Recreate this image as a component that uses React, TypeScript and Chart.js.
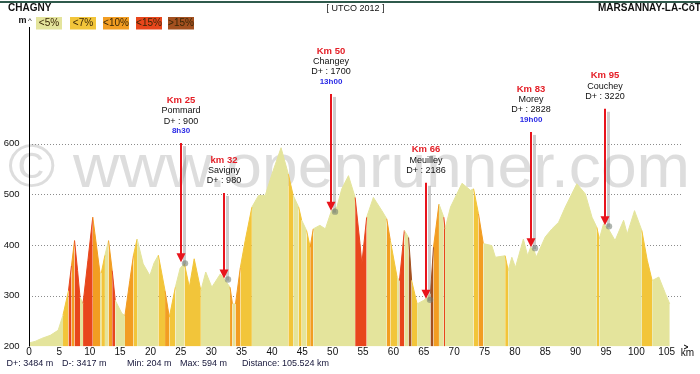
import React, { useEffect, useRef } from 'react';
import { Chart, registerables } from 'chart.js';

Chart.register(...registerables);

// ---------- data ----------
const distanceKm = [
  0, 1, 2.1, 3.5, 4.8, 5.6, 6.5, 7.0, 7.5, 8.0, 8.4, 8.9, 9.7, 10.5, 11.1, 11.7, 11.9, 12.5, 13.1, 13.7,
  14.2, 15.3, 15.8, 16.6, 17.2, 17.8, 18.8, 19.9, 20.6, 21.3, 22.4, 23.1, 24.1, 24.9, 25.6, 26.4, 27.2, 28.3,
  29.1, 30.1, 31.5, 32.1, 33.1, 33.5, 34.0, 34.8, 35.6, 36.7, 37.8, 38.9, 40.0, 41.5, 42.7, 43.5, 44.4, 44.9,
  45.7, 46.3, 46.8, 47.9, 48.8, 49.8, 50.7, 51.5, 52.6, 53.7, 54.5, 54.8, 55.6, 56.7, 58.1, 58.9, 59.5, 60.6,
  61.0, 61.8, 62.5, 63.0, 63.9, 65.0, 65.3, 66.1, 66.6, 67.5, 68.3, 68.5, 69.4, 71.3, 72.7, 73.2, 74.0, 74.8,
  76.2, 76.8, 78.4, 78.9, 79.5, 80.1, 81.4, 82.1, 82.6, 83.2, 83.5, 85.0, 86.1, 87.2, 88.3, 90.2, 91.6, 92.7,
  93.5, 93.9, 94.6, 94.8, 95.4, 96.5, 97.9, 98.5, 99.7, 100.9, 101.8, 102.6, 103.7, 104.8, 105.5,
];
const elevationM = [
  207, 210, 216, 222, 232, 262, 310, 360, 409, 350, 297, 285, 370, 455, 400, 344, 345, 380, 409, 350,
  291, 265, 261, 330, 380, 412, 363, 340, 365, 380, 310, 258, 317, 355, 363, 317, 373, 310,
  347, 317, 343, 334, 317, 284, 284, 356, 409, 475, 498, 498, 540, 592, 540, 498, 475, 449,
  429, 396, 432, 439, 432, 468, 475, 511, 537, 494, 403, 363, 455, 494, 468, 452, 409, 337,
  330, 429, 415, 330, 284, 291, 294, 304, 396, 481, 455, 432, 475, 522, 508, 511, 462, 403,
  399, 376, 379, 350, 376, 356, 412, 379, 396, 389, 376, 416, 432, 445, 475, 521, 501, 455,
  435, 412, 442, 439, 432, 409, 449, 422, 468, 429, 370, 330, 337, 304, 284,
];

const xTicks = [0, 5, 10, 15, 20, 25, 30, 35, 40, 45, 50, 55, 60, 65, 70, 75, 80, 85, 90, 95, 100, 105];
const yTicks = [200, 300, 400, 500, 600];
const gridLevels = [300, 400, 500, 600];

const slopeLimits = [5, 7, 10, 15];
const slopeLabels = ['<5%', '<7%', '<10%', '<15%', '>15%'];
const slopeColors = ['#e4e49c', '#f2c53a', '#f29d22', '#e8461c', '#a3501f'];

const markerKm = [25, 32.1, 49.8, 65.3, 82.6, 94.8];
const markerTipElev = [366, 334, 468, 294, 396, 439];
const markerLabelElev = [686, 568, 783, 588, 708, 734];
const markerTitle = ['Km 25', 'km 32', 'Km 50', 'Km 66', 'Km 83', 'Km 95'];
const markerPlace = ['Pommard', 'Savigny', 'Changey', 'Meuilley', 'Morey', 'Couchey'];
const markerClimb = ['D+ : 900', 'D+ : 980', 'D+ : 1700', 'D+ : 2186', 'D+ : 2828', 'D+ : 3220'];
const markerTime = ['8h30', '', '13h00', '', '19h00', ''];

const startName = 'CHAGNY';
const endName = 'MARSANNAY-LA-CôTE';
const eventName = '[ UTCO 2012 ]';
const footerItems = ['D+: 3484 m', 'D-: 3417 m', 'Min: 204 m', 'Max: 594 m', 'Distance: 105.524 km'];
const watermark = '© www.openrunner.com';

// ---------- drawing ----------
const FONT = "'Liberation Sans', Arial, sans-serif";

function slopeColor(p0: any, p1: any): string {
  const dx = (p1.x - p0.x) * 1000;
  const s = dx > 0 ? (Math.abs(p1.y - p0.y) / dx) * 100 : 0;
  let i = 0;
  while (i < slopeLimits.length && s >= slopeLimits[i]) i++;
  return slopeColors[i];
}

const decor = {
  id: 'decor',
  beforeDatasetsDraw(chart: any) {
    const { ctx, chartArea: a, scales } = chart;
    const y = scales.y;
    ctx.save();

    // watermark (behind the profile)
    ctx.font = `62px ${FONT}`;
    const w = ctx.measureText(watermark).width;
    ctx.save();
    ctx.translate(8, 187);
    ctx.scale(682 / w, 1);
    ctx.fillStyle = 'rgba(170,170,170,0.4)';
    ctx.textAlign = 'left';
    ctx.textBaseline = 'alphabetic';
    ctx.fillText(watermark, 0, 0);
    ctx.restore();

    ctx.strokeStyle = '#8c8c8c';
    ctx.lineWidth = 1;
    ctx.setLineDash([1, 2]);
    for (const v of gridLevels) {
      const py = Math.round(y.getPixelForValue(v)) + 0.5;
      ctx.beginPath();
      ctx.moveTo(a.left + 3, py);
      ctx.lineTo(a.right, py);
      ctx.stroke();
    }
    ctx.restore();
  },
  afterDatasetsDraw(chart: any) {
    const { ctx, chartArea: a, scales } = chart;
    const x = scales.x;
    const y = scales.y;
    ctx.save();

    // top rule
    ctx.fillStyle = '#2f5a4c';
    ctx.fillRect(0, 1, 700, 2);

    // titles
    ctx.textBaseline = 'middle';
    ctx.fillStyle = '#111';
    ctx.font = `bold 10px ${FONT}`;
    ctx.textAlign = 'left';
    ctx.fillText(startName, 8, 8.5);
    ctx.fillText(endName, 598, 8.5);
    ctx.font = `9px ${FONT}`;
    ctx.textAlign = 'center';
    ctx.fillText(eventName, 355.5, 8.5);

    // legend
    const boxX = [36, 70, 103, 136, 168];
    slopeLabels.forEach((lab, i) => {
      ctx.fillStyle = slopeColors[i];
      ctx.fillRect(boxX[i], 17, 26, 12.5);
      ctx.fillStyle = '#3a2606';
      ctx.font = `10px ${FONT}`;
      ctx.textAlign = 'center';
      ctx.fillText(lab, boxX[i] + 13, 23.5);
    });
    ctx.fillStyle = '#111';
    ctx.font = `bold 9px ${FONT}`;
    ctx.textAlign = 'center';
    ctx.fillText('m', 22.5, 21);
    ctx.font = `8px ${FONT}`;
    ctx.fillText('^', 30, 21);

    // y axis line
    ctx.strokeStyle = '#000';
    ctx.lineWidth = 1;
    ctx.beginPath();
    ctx.moveTo(Math.round(a.left) + 0.5, 27);
    ctx.lineTo(Math.round(a.left) + 0.5, a.bottom);
    ctx.stroke();

    // y tick labels
    ctx.font = `9.5px ${FONT}`;
    ctx.fillStyle = '#111';
    ctx.textAlign = 'right';
    for (const v of yTicks) ctx.fillText(String(v), 19.5, y.getPixelForValue(v));

    // x tick labels
    ctx.font = `10px ${FONT}`;
    ctx.textAlign = 'center';
    for (const v of xTicks) ctx.fillText(String(v), x.getPixelForValue(v), 352.5);
    ctx.fillText('km', 687.5, 353);
    ctx.beginPath();
    ctx.moveTo(684, 345);
    ctx.lineTo(688, 347);
    ctx.lineTo(684, 349);
    ctx.stroke();

    // footer
    const fx = [6.5, 62, 127, 180, 242];
    ctx.font = `9px ${FONT}`;
    ctx.textAlign = 'left';
    ctx.fillStyle = '#16163a';
    footerItems.forEach((t, i) => ctx.fillText(t, fx[i], 364));

    // markers
    markerKm.forEach((km, i) => {
      const px = Math.round(x.getPixelForValue(km));
      const ty = y.getPixelForValue(markerLabelElev[i]);
      const tip = y.getPixelForValue(markerTipElev[i]);
      ctx.textAlign = 'center';
      ctx.textBaseline = 'middle';
      ctx.font = `bold 9.5px ${FONT}`;
      ctx.fillStyle = '#e41e26';
      ctx.fillText(markerTitle[i], px, ty);
      ctx.font = `9px ${FONT}`;
      ctx.fillStyle = '#111';
      ctx.fillText(markerPlace[i], px, ty + 10.7);
      ctx.fillText(markerClimb[i], px, ty + 21);
      let last = ty + 21;
      if (markerTime[i]) {
        ctx.font = `bold 8px ${FONT}`;
        ctx.fillStyle = '#2a2ae6';
        ctx.fillText(markerTime[i], px, ty + 31);
        last = ty + 31;
      }
      const top = last + 12;
      // shadow
      ctx.strokeStyle = 'rgba(130,130,130,0.4)';
      ctx.lineWidth = 3;
      ctx.beginPath();
      ctx.moveTo(px + 3.5, top + 3);
      ctx.lineTo(px + 3.5, tip + 2);
      ctx.stroke();
      ctx.fillStyle = 'rgba(110,120,110,0.55)';
      ctx.beginPath();
      ctx.arc(px + 4, tip + 1, 3.2, 0, Math.PI * 2);
      ctx.fill();
      // red arrow
      ctx.strokeStyle = '#e8141c';
      ctx.lineWidth = 2;
      ctx.beginPath();
      ctx.moveTo(px, top);
      ctx.lineTo(px, tip - 7);
      ctx.stroke();
      ctx.fillStyle = '#e8141c';
      ctx.beginPath();
      ctx.moveTo(px - 4.5, tip - 9);
      ctx.lineTo(px + 4.5, tip - 9);
      ctx.lineTo(px, tip);
      ctx.closePath();
      ctx.fill();
    });

    ctx.restore();
  },
};

export default function App() {
  const ref = useRef<HTMLCanvasElement | null>(null);

  useEffect(() => {
    if (!ref.current) return;
    const points = distanceKm.map((d, i) => ({ x: d, y: elevationM[i] }));
    const chart = new Chart(ref.current, {
      type: 'line',
      data: {
        datasets: [
          {
            data: points,
            fill: 'start',
            backgroundColor: slopeColors[0],
            borderColor: slopeColors[0],
            borderWidth: 1,
            pointRadius: 0,
            tension: 0,
            segment: {
              backgroundColor: (c: any) => slopeColor(c.p0.parsed, c.p1.parsed),
              borderColor: (c: any) => slopeColor(c.p0.parsed, c.p1.parsed),
            },
          } as any,
        ],
      },
      options: {
        responsive: false,
        animation: false,
        devicePixelRatio: 1,
        layout: { padding: { left: 29, right: 18.1, top: 20, bottom: 27.5 } },
        plugins: { legend: { display: false }, tooltip: { enabled: false } },
        scales: {
          x: { type: 'linear', min: 0, max: 107.5, display: false },
          y: { type: 'linear', min: 200, max: 844, display: false },
        },
      },
      plugins: [decor],
    });
    return () => chart.destroy();
  }, []);

  return (
    <div style={{ position: 'fixed', left: 0, top: 0, width: 700, height: 374, background: '#fff' }}>
      <canvas ref={ref} width={700} height={374} style={{ display: 'block' }} />
    </div>
  );
}
